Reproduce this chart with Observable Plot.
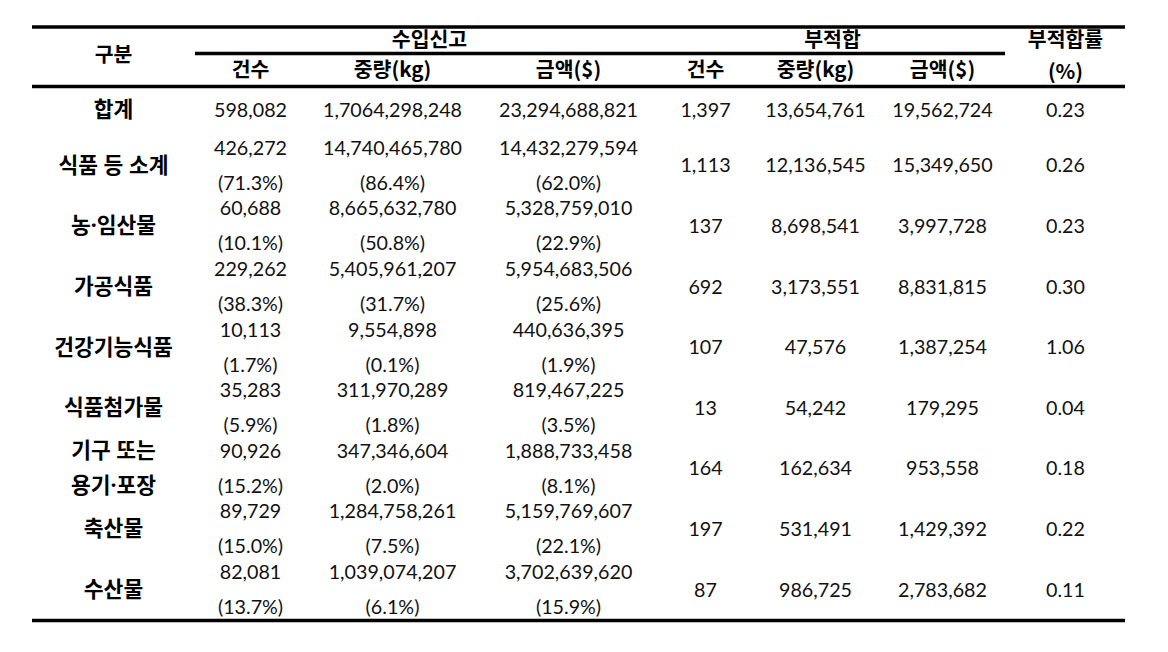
<!DOCTYPE html>
<html><head><meta charset="utf-8">
<script src="https://cdn.jsdelivr.net/npm/d3@7"></script>
<script src="https://cdn.jsdelivr.net/npm/@observablehq/plot@0.6"></script>
<style>
html,body{margin:0;padding:0;background:#fff;}
svg{display:block;}
</style>
</head><body>
<div id="chart"></div>
<script>
// ---- data ----
const categories = ["합계","식품 등 소계","농·임산물","가공식품","건강기능식품","식품첨가물","기구 또는\n용기·포장","축산물","수산물"];
const importCount = [598082,426272,60688,229262,10113,35283,90926,89729,82081];
const importCountPct = [null,71.3,10.1,38.3,1.7,5.9,15.2,15.0,13.7];
const importWeight = ["1,7064,298,248","14,740,465,780","8,665,632,780","5,405,961,207","9,554,898","311,970,289","347,346,604","1,284,758,261","1,039,074,207"];
const importWeightPct = [null,86.4,50.8,31.7,0.1,1.8,2.0,7.5,6.1];
const importAmount = [23294688821,14432279594,5328759010,5954683506,440636395,819467225,1888733458,5159769607,3702639620];
const importAmountPct = [null,62.0,22.9,25.6,1.9,3.5,8.1,22.1,15.9];
const rejectCount = [1397,1113,137,692,107,13,164,197,87];
const rejectWeight = [13654761,12136545,8698541,3173551,47576,54242,162634,531491,986725];
const rejectAmount = [19562724,15349650,3997728,8831815,1387254,179295,953558,1429392,2783682];
const rejectRate = [0.23,0.26,0.23,0.30,1.06,0.04,0.18,0.22,0.11];
const groupHeaders = ["수입신고","부적합"];
const subHeaders = ["건수","중량(kg)","금액($)","건수","중량(kg)","금액($)"];

// ---- layout ----
const W = 1168, H = 640;
const colX = {cat:113, c1:250, c2:392, c3:568, c4:705, c5:815, c6:942, c7:1065, g1:429, g2:832};
const fmt = d3.format(",");
const pct = v => `(${v.toFixed(1)}%)`;
const rowTop = i => i === 0 ? 110 : 148 + 60.6*(i-1);

const cells = [];
const push = (x,y,text,kind="num") => cells.push({x,y,text,kind});

// headers
push(colX.g1, 40, groupHeaders[0], "head");
push(colX.g2, 40, groupHeaders[1], "head");
push(colX.cat, 55, "구분", "head");
push(colX.c7, 40, "부적합률", "head");
push(colX.c7, 72, "(%)", "head");
["c1","c2","c3","c4","c5","c6"].forEach((k,j) => push(colX[k], 70, subHeaders[j], "head"));

categories.forEach((cat,i) => {
  const y0 = rowTop(i);
  if (i === 0) {
    push(colX.cat, y0, cat, "cat");
    push(colX.c1, y0, fmt(importCount[i]));
    push(colX.c2, y0, importWeight[i]);
    push(colX.c3, y0, fmt(importAmount[i]));
    push(colX.c4, y0, fmt(rejectCount[i]));
    push(colX.c5, y0, fmt(rejectWeight[i]));
    push(colX.c6, y0, fmt(rejectAmount[i]));
    push(colX.c7, y0, rejectRate[i].toFixed(2));
  } else {
    const yMid = y0 + 17.5, y1 = y0 + 35;
    const parts = cat.split("\n");
    if (parts.length === 2) { push(colX.cat, y0, parts[0], "cat"); push(colX.cat, y1, parts[1], "cat"); }
    else push(colX.cat, yMid, cat, "cat");
    push(colX.c1, y0, fmt(importCount[i]));   push(colX.c1, y1, pct(importCountPct[i]));
    push(colX.c2, y0, importWeight[i]);        push(colX.c2, y1, pct(importWeightPct[i]));
    push(colX.c3, y0, fmt(importAmount[i]));  push(colX.c3, y1, pct(importAmountPct[i]));
    push(colX.c4, yMid, fmt(rejectCount[i]));
    push(colX.c5, yMid, fmt(rejectWeight[i]));
    push(colX.c6, yMid, fmt(rejectAmount[i]));
    push(colX.c7, yMid, rejectRate[i].toFixed(2));
  }
});

const rules = [
  {x1:32, x2:1125, y:26.5, w:3.3},
  {x1:195, x2:1005, y:53, w:3.3},
  {x1:32, x2:1125, y:86, w:3.3},
  {x1:32, x2:1125, y:620, w:3.5}
];

const chart = Plot.plot({
  width: W, height: H,
  margin: 0,
  style: {fontFamily: "'Noto Sans CJK KR', 'Noto Sans', sans-serif", background: "#fff"},
  x: {type: "linear", domain: [0, W], range: [0, W], axis: null},
  y: {type: "linear", domain: [0, H], range: [0, H], axis: null},
  marks: [
    Plot.ruleY(rules, {y: "y", x1: "x1", x2: "x2", stroke: "#000", strokeWidth: d => d.w}),
    Plot.text(cells.filter(d => d.kind === "num"), {x: "x", y: "y", text: "text", fontSize: 19.7, fill: "#111", textAnchor: "middle", fontFamily: "Lato, 'Noto Sans', sans-serif"}),
    Plot.text(cells.filter(d => d.kind === "head"), {x: "x", y: "y", text: "text", fontSize: 20.5, fontWeight: "bold", fill: "#000", textAnchor: "middle"}),
    Plot.text(cells.filter(d => d.kind === "cat"), {x: "x", y: "y", text: "text", fontSize: 21.5, fontWeight: "bold", fill: "#000", textAnchor: "middle", fontFamily: "'Noto Sans', 'Noto Sans CJK KR', sans-serif"})
  ]
});
document.getElementById("chart").append(chart);
</script>
</body></html>
